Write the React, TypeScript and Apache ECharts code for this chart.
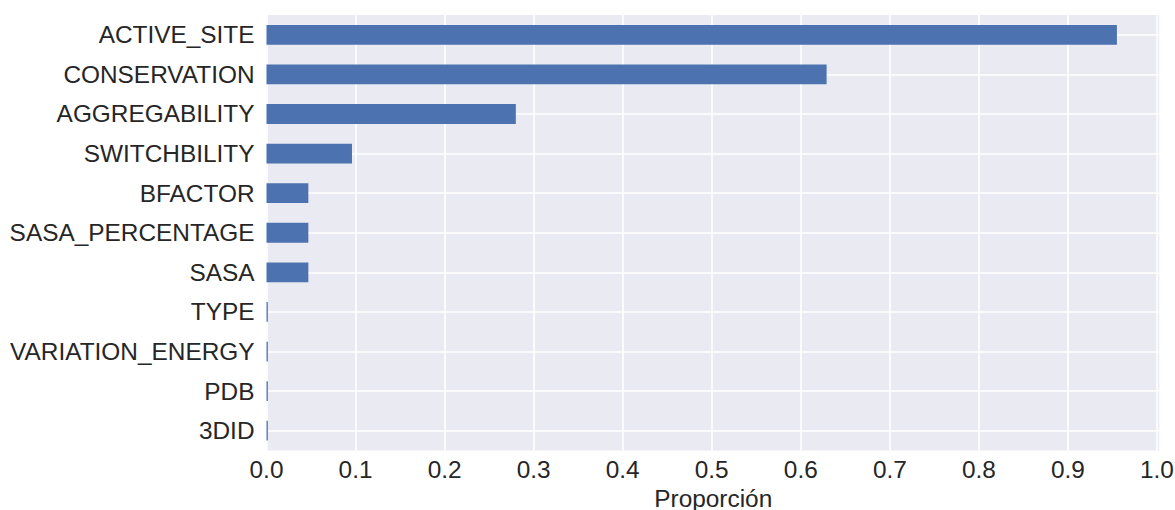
import React, { useEffect, useRef } from "react";
import * as echarts from "echarts";

const categories = [
  "ACTIVE_SITE",
  "CONSERVATION",
  "AGGREGABILITY",
  "SWITCHBILITY",
  "BFACTOR",
  "SASA_PERCENTAGE",
  "SASA",
  "TYPE",
  "VARIATION_ENERGY",
  "PDB",
  "3DID",
];
const values = [0.955, 0.629, 0.28, 0.096, 0.047, 0.047, 0.047, 0.0015, 0.0015, 0.0015, 0.0015];
const xTicks = [0, 0.1, 0.2, 0.3, 0.4, 0.5, 0.6, 0.7, 0.8, 0.9, 1.0];
const xName = "Proporción";

const FONT = "'Liberation Sans', Arial, sans-serif";
const TEXT = "#262626";
const FS = 24.4;

export default function App() {
  const ref = useRef<HTMLDivElement>(null);
  useEffect(() => {
    if (!ref.current) return;
    const chart = echarts.init(ref.current, undefined, { renderer: "svg", width: 1175, height: 510 });
    const n = categories.length;
    chart.setOption({
      animation: false,
      textStyle: { fontFamily: FONT },
      grid: {
        left: 266.5,
        width: 893.5,
        top: 15,
        height: 435.5,
        show: true,
        backgroundColor: "#EAEAF2",
        borderWidth: 0,
        containLabel: false,
        outerBoundsMode: "none",
      },
      xAxis: {
        type: "value",
        min: 0,
        max: 1.0034,
        interval: 0.1,
        name: xName,
        nameLocation: "middle",
        nameGap: 28,
        nameTextStyle: { fontSize: FS, color: TEXT, fontFamily: FONT },
        axisLine: { show: false },
        axisTick: { show: false },
        axisLabel: {
          fontSize: FS,
          color: TEXT,
          fontFamily: FONT,
          margin: 7,
          showMaxLabel: true,
          formatter: (v: number) => {
            const ok = xTicks.some((t) => Math.abs(t - v) < 1e-6);
            return ok ? v.toFixed(1) : "";
          },
        },
        splitLine: { show: true, lineStyle: { color: "#ffffff", width: 1.6 } },
      },
      yAxis: [
        {
          type: "category",
          data: categories,
          inverse: true,
          axisLine: { show: false },
          axisTick: { show: false },
          splitLine: { show: false },
          axisLabel: { fontSize: FS, color: TEXT, fontFamily: FONT, margin: 12 },
        },
        {
          type: "value",
          min: 0,
          max: 2 * n,
          interval: 1,
          position: "left",
          axisLine: { show: false },
          axisTick: { show: false },
          axisLabel: { show: false },
          splitLine: {
            show: true,
            lineStyle: { color: ["rgba(0,0,0,0)", "#ffffff"], width: 1.6 },
          },
        },
      ],
      series: [
        {
          type: "bar",
          yAxisIndex: 0,
          data: values,
          barWidth: "50%",
          itemStyle: { color: "#4C72B0" },
          z: 3,
        },
      ],
    });
    return () => chart.dispose();
  }, []);
  return (
    <div
      ref={ref}
      style={{ position: "absolute", left: 0, top: 0, width: 1175, height: 510 }}
    />
  );
}
